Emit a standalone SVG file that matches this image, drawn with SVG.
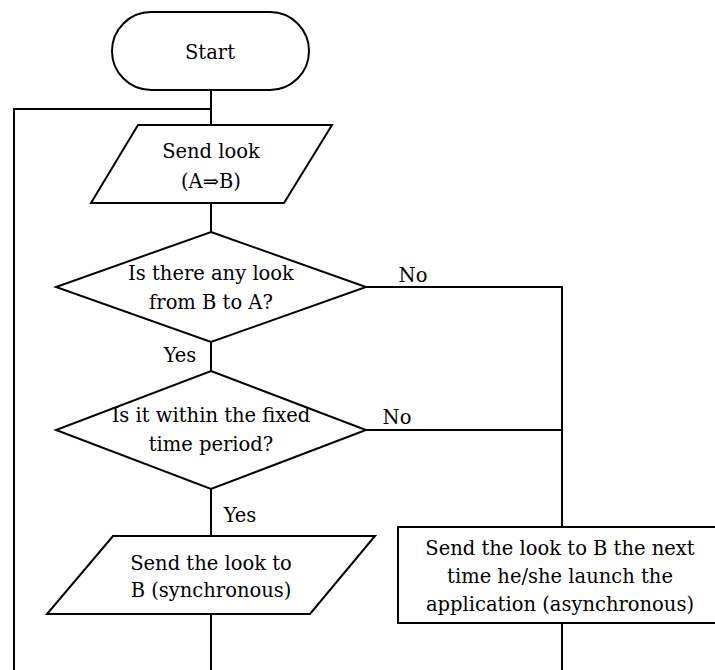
<svg xmlns="http://www.w3.org/2000/svg" width="715" height="670" viewBox="0 0 715 670">
<style>
.s{fill:#fff;stroke:#000;stroke-width:2}
.c{fill:none;stroke:#000;stroke-width:2}
.t{font-family:'DejaVu Serif','Liberation Serif',serif;font-size:19.5px;fill:#000;text-anchor:middle}
</style>
<rect width="715" height="670" fill="#fff"/>
<g id="connectors">
<path class="c" d="M211 90V125"/>
<path class="c" d="M211 109H14V670"/>
<path class="c" d="M211 203V232"/>
<path class="c" d="M211 342V371"/>
<path class="c" d="M211 489V536"/>
<path class="c" d="M211 614V670"/>
<path class="c" d="M366 287H562V527"/>
<path class="c" d="M366 430H562"/>
<path class="c" d="M562 623V670"/>
<text class="t" x="413" y="282">No</text>
<text class="t" x="397" y="424">No</text>
<text class="t" x="180" y="362">Yes</text>
<text class="t" x="240" y="522">Yes</text>
</g>
<g id="start">
<rect class="s" x="112" y="12" width="197" height="78" rx="39" ry="39"/>
<text class="t" x="210" y="59">Start</text>
</g>
<g id="send-look">
<path class="s" d="M138 125H332L284 203H91Z"/>
<text class="t" x="211" y="158">Send look</text>
<text class="t" x="211" y="188">(A⇒B)</text>
</g>
<g id="decision-look">
<path class="s" d="M211 232L366 287L211 342L56 287Z"/>
<text class="t" x="211" y="280">Is there any look</text>
<text class="t" x="211" y="309">from B to A?</text>
</g>
<g id="decision-time">
<path class="s" d="M211 371L366 430L211 489L56 430Z"/>
<text class="t" x="211" y="422">Is it within the fixed</text>
<text class="t" x="211" y="451">time period?</text>
</g>
<g id="send-sync">
<path class="s" d="M113 536H375L310 614H47Z"/>
<text class="t" x="211" y="570">Send the look to</text>
<text class="t" x="211" y="597">B (synchronous)</text>
</g>
<g id="send-async">
<rect class="s" x="398" y="527" width="330" height="96"/>
<text class="t" x="560" y="555">Send the look to B the next</text>
<text class="t" x="560" y="583">time he/she launch the</text>
<text class="t" x="560" y="611">application (asynchronous)</text>
</g>
</svg>
